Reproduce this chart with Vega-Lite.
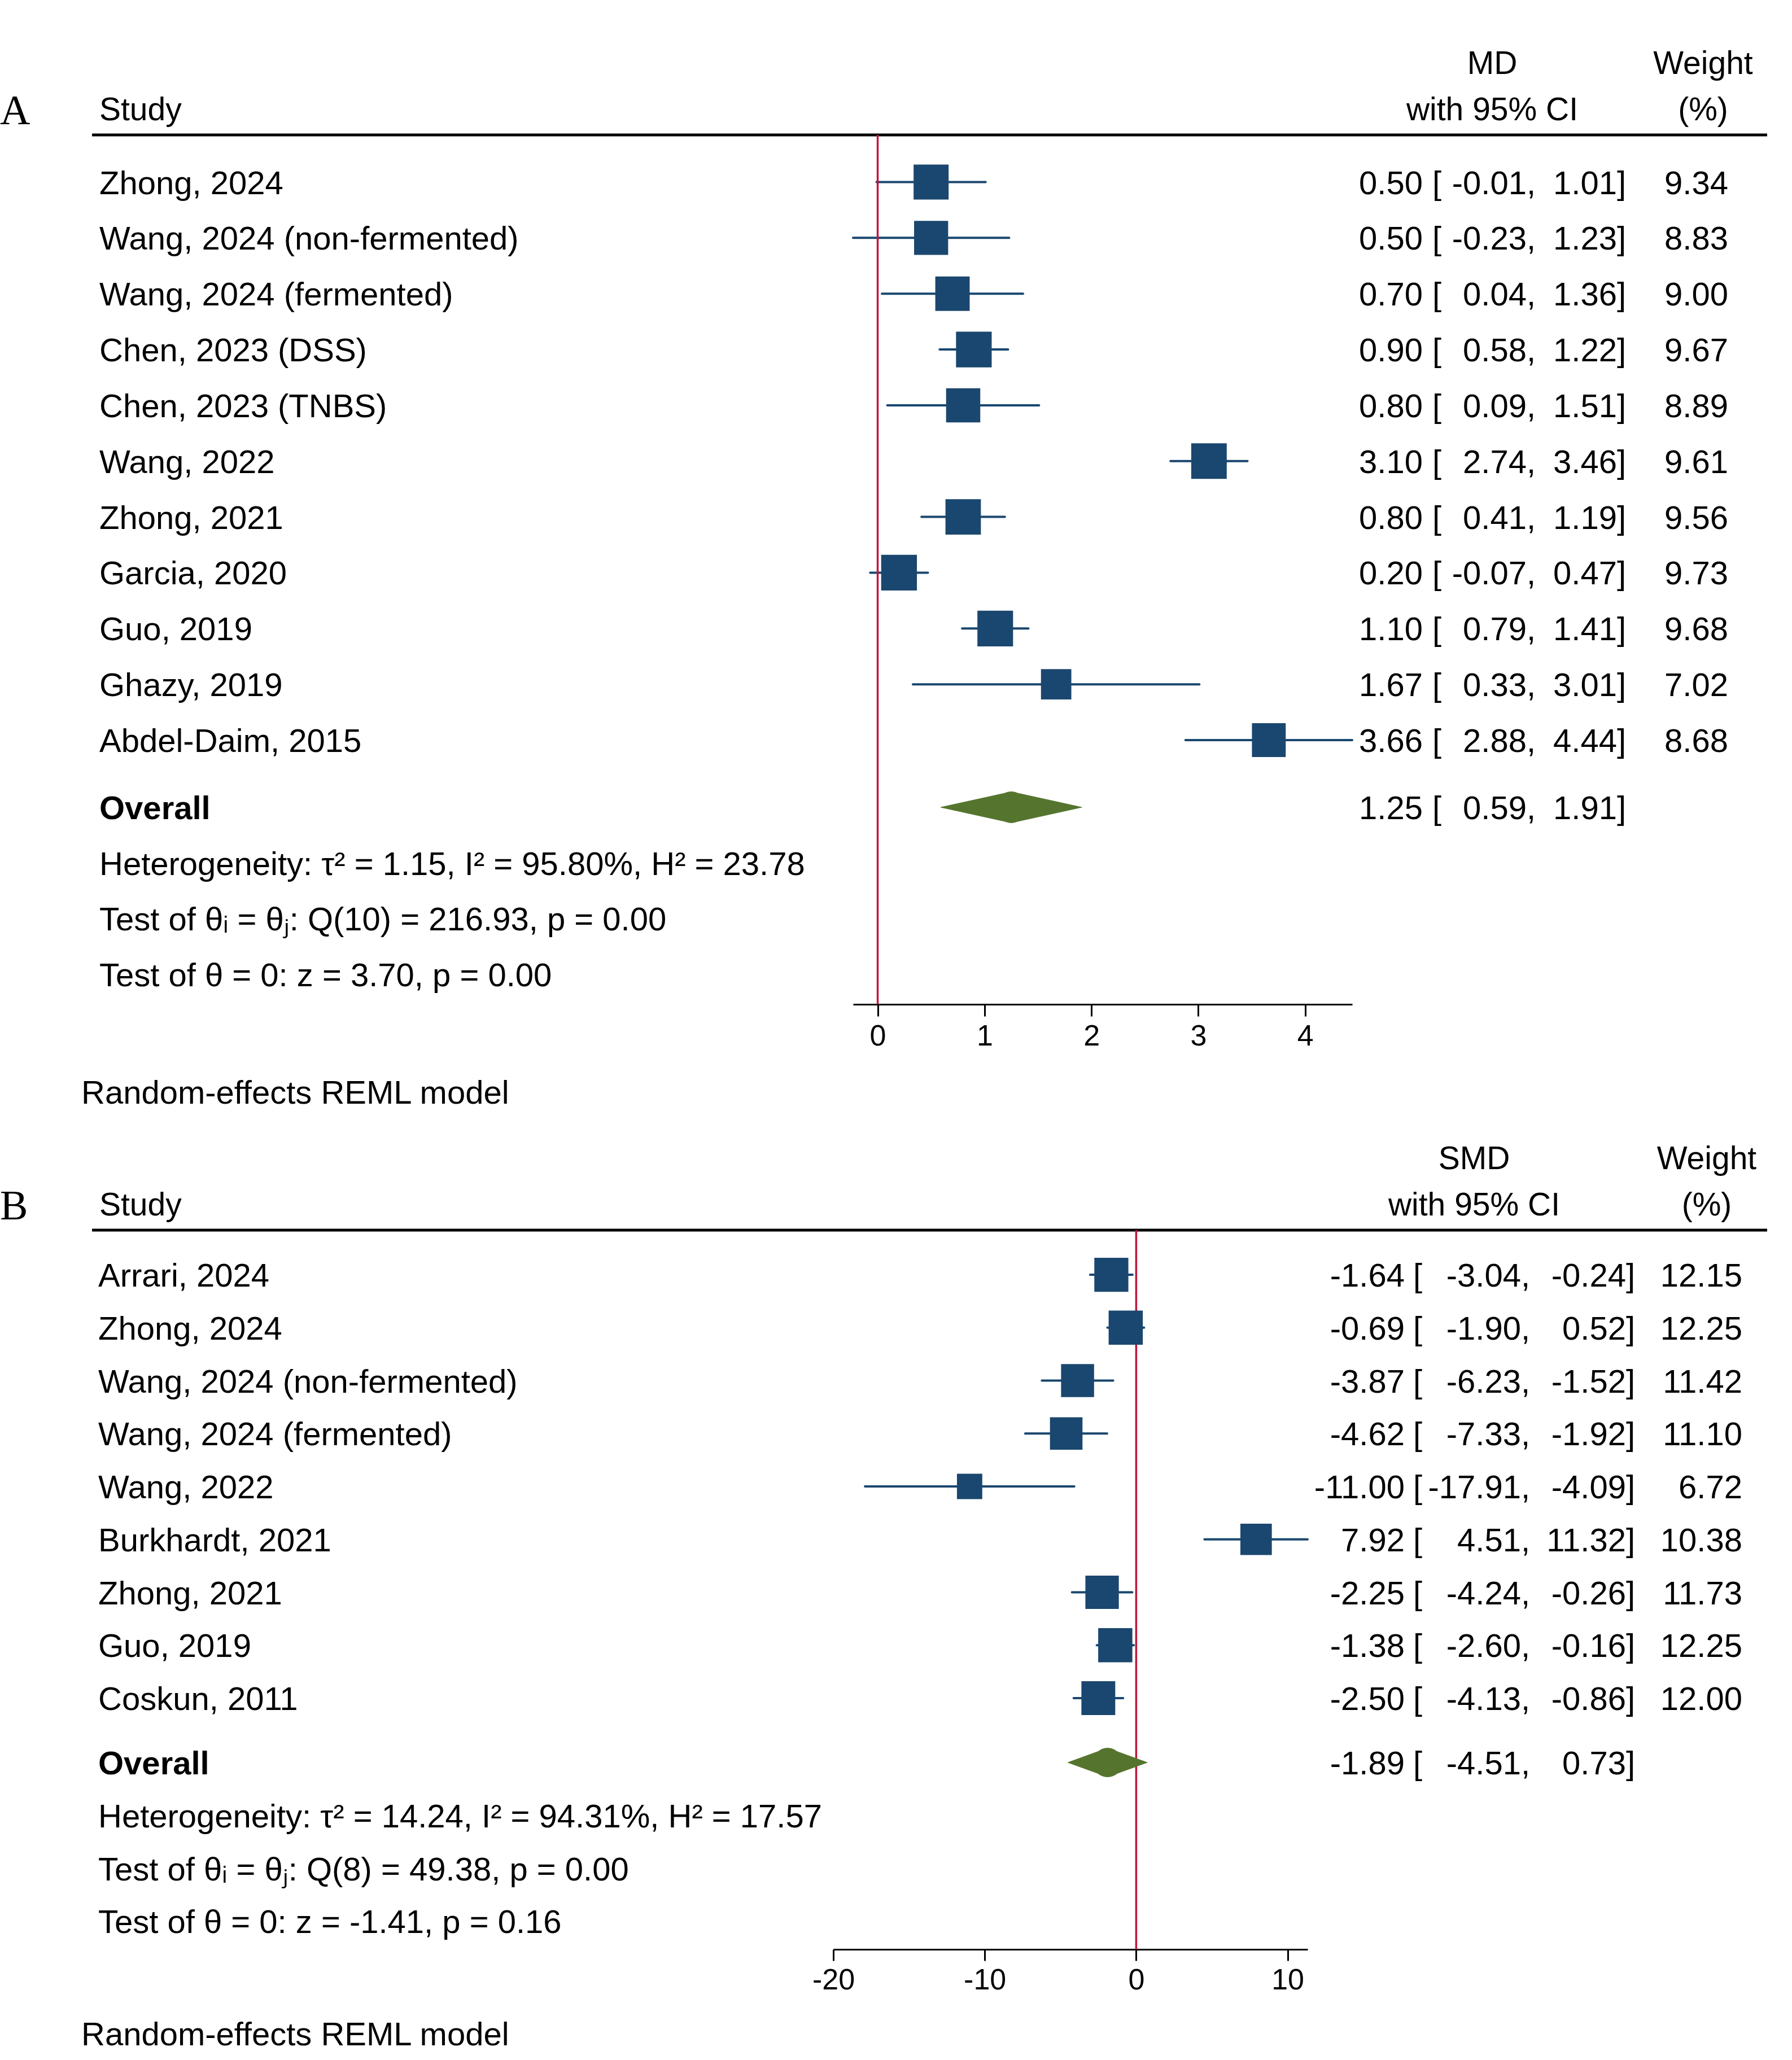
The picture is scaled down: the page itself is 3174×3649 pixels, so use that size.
{
  "$schema": "https://vega.github.io/schema/vega-lite/v6.json",
  "background": "white",
  "padding": {"left": 0, "top": 84, "right": 0, "bottom": 0},
  "config": {
    "view": {"stroke": null},
    "font": "Liberation Sans",
    "text": {"font": "Liberation Sans", "fontSize": 58, "color": "black"},
    "title": {"font": "Liberation Sans", "fontSize": 57, "fontWeight": "normal", "color": "black", "lineHeight": 82},
    "locale": {"number": {"decimal": ".", "thousands": ",", "grouping": [3], "currency": ["", ""], "minus": "-"}}
  },
  "datasets": {
    "forestA": [
      {"row": 1, "kind": "study", "label": "Zhong, 2024", "es": 0.50, "lo": -0.01, "hi": 1.01, "weight": 9.34},
      {"row": 2, "kind": "study", "label": "Wang, 2024 (non-fermented)", "es": 0.50, "lo": -0.23, "hi": 1.23, "weight": 8.83},
      {"row": 3, "kind": "study", "label": "Wang, 2024 (fermented)", "es": 0.70, "lo": 0.04, "hi": 1.36, "weight": 9.00},
      {"row": 4, "kind": "study", "label": "Chen, 2023 (DSS)", "es": 0.90, "lo": 0.58, "hi": 1.22, "weight": 9.67},
      {"row": 5, "kind": "study", "label": "Chen, 2023 (TNBS)", "es": 0.80, "lo": 0.09, "hi": 1.51, "weight": 8.89},
      {"row": 6, "kind": "study", "label": "Wang, 2022", "es": 3.10, "lo": 2.74, "hi": 3.46, "weight": 9.61},
      {"row": 7, "kind": "study", "label": "Zhong, 2021", "es": 0.80, "lo": 0.41, "hi": 1.19, "weight": 9.56},
      {"row": 8, "kind": "study", "label": "Garcia, 2020", "es": 0.20, "lo": -0.07, "hi": 0.47, "weight": 9.73},
      {"row": 9, "kind": "study", "label": "Guo, 2019", "es": 1.10, "lo": 0.79, "hi": 1.41, "weight": 9.68},
      {"row": 10, "kind": "study", "label": "Ghazy, 2019", "es": 1.67, "lo": 0.33, "hi": 3.01, "weight": 7.02},
      {"row": 11, "kind": "study", "label": "Abdel-Daim, 2015", "es": 3.66, "lo": 2.88, "hi": 4.44, "weight": 8.68},
      {"row": 12, "kind": "overall", "label": "Overall", "es": 1.25, "lo": 0.59, "hi": 1.91},
      {"row": 13, "kind": "stat", "label": "Heterogeneity: τ² = 1.15, I² = 95.80%, H² = 23.78"},
      {"row": 14, "kind": "stat", "label": "Test of θᵢ = θⱼ: Q(10) = 216.93, p = 0.00"},
      {"row": 15, "kind": "stat", "label": "Test of θ = 0: z = 3.70, p = 0.00"}
    ],
    "forestB": [
      {"row": 1, "kind": "study", "label": "Arrari, 2024", "es": -1.64, "lo": -3.04, "hi": -0.24, "weight": 12.15},
      {"row": 2, "kind": "study", "label": "Zhong, 2024", "es": -0.69, "lo": -1.90, "hi": 0.52, "weight": 12.25},
      {"row": 3, "kind": "study", "label": "Wang, 2024 (non-fermented)", "es": -3.87, "lo": -6.23, "hi": -1.52, "weight": 11.42},
      {"row": 4, "kind": "study", "label": "Wang, 2024 (fermented)", "es": -4.62, "lo": -7.33, "hi": -1.92, "weight": 11.10},
      {"row": 5, "kind": "study", "label": "Wang, 2022", "es": -11.00, "lo": -17.91, "hi": -4.09, "weight": 6.72},
      {"row": 6, "kind": "study", "label": "Burkhardt, 2021", "es": 7.92, "lo": 4.51, "hi": 11.32, "weight": 10.38},
      {"row": 7, "kind": "study", "label": "Zhong, 2021", "es": -2.25, "lo": -4.24, "hi": -0.26, "weight": 11.73},
      {"row": 8, "kind": "study", "label": "Guo, 2019", "es": -1.38, "lo": -2.60, "hi": -0.16, "weight": 12.25},
      {"row": 9, "kind": "study", "label": "Coskun, 2011", "es": -2.50, "lo": -4.13, "hi": -0.86, "weight": 12.00},
      {"row": 10, "kind": "overall", "label": "Overall", "es": -1.89, "lo": -4.51, "hi": 0.73},
      {"row": 11, "kind": "stat", "label": "Heterogeneity: τ² = 14.24, I² = 94.31%, H² = 17.57"},
      {"row": 12, "kind": "stat", "label": "Test of θᵢ = θⱼ: Q(8) = 49.38, p = 0.00"},
      {"row": 13, "kind": "stat", "label": "Test of θ = 0: z = -1.41, p = 0.16"}
    ]
  },
  "resolve": {"scale": {"x": "independent", "y": "independent", "size": "independent"}},
  "spacing": 57,
  "vconcat": [
    {
      "title": {"text": "Random-effects REML model", "orient": "bottom", "anchor": "start", "frame": "group", "dx": 144, "offset": 48, "fontSize": 58},
      "bounds": "flush",
      "spacing": 0,
      "resolve": {"scale": {"x": "independent", "y": "independent", "size": "independent"}},
      "hconcat": [
        {
          "width": 163, "height": 1540,
          "title": {"text": "A", "font": "Liberation Serif", "fontSize": 74, "anchor": "start", "frame": "group", "offset": 3},
          "data": {"values": []},
          "mark": "text"
        },
        {
          "width": 1348, "height": 1540,
          "title": {"text": "Study", "anchor": "start", "frame": "group", "dx": 13, "offset": 12},
          "data": {"name": "forestA"},
          "layer": [
            {"data": {"values": [{}]}, "mark": {"type": "rule", "color": "black", "strokeWidth": 5},
             "encoding": {"y": {"datum": 0.155, "type": "quantitative", "scale": {"domain": [0.155, 11, 12, 15.54], "range": [0, 1072, 1191, 1540], "nice": false, "zero": false}, "axis": null}}},
            {"transform": [{"filter": "datum.kind !== 'overall'"}],
             "mark": {"type": "text", "align": "left", "baseline": "alphabetic", "dx": 13, "dy": 21},
             "encoding": {
               "x": {"datum": 0, "type": "quantitative", "scale": {"domain": [0, 1], "nice": false, "zero": false}, "axis": null},
               "y": {"field": "row", "type": "quantitative"},
               "text": {"field": "label"}}},
            {"transform": [{"filter": "datum.kind === 'overall'"}],
             "mark": {"type": "text", "align": "left", "baseline": "alphabetic", "dx": 13, "dy": 21, "fontWeight": "bold"},
             "encoding": {
               "x": {"datum": 0, "type": "quantitative"},
               "y": {"field": "row", "type": "quantitative"},
               "text": {"field": "label"}}}
          ]
        },
        {
          "width": 884, "height": 1540,
          "data": {"name": "forestA"},
          "layer": [
            {"data": {"values": [{}]}, "mark": {"type": "rule", "color": "black", "strokeWidth": 5},
             "encoding": {"y": {"datum": 0.155, "type": "quantitative", "scale": {"domain": [0.155, 11, 12, 15.54], "range": [0, 1072, 1191, 1540], "nice": false, "zero": false}, "axis": null}}},
            {"transform": [{"filter": "datum.kind === 'study'"}],
             "mark": {"type": "rule", "color": "#1a476f", "strokeWidth": 4, "strokeCap": "round"},
             "encoding": {
               "x": {"field": "lo", "type": "quantitative", "scale": {"domain": [-0.23, 4.44], "nice": false, "zero": false},
                     "axis": {"values": [0, 1, 2, 3, 4], "format": "d", "title": null, "grid": false, "domainColor": "black", "domainWidth": 3, "tickColor": "black", "tickWidth": 3, "tickSize": 21, "labelFont": "Liberation Sans", "labelFontSize": 52, "labelColor": "black", "labelPadding": 10, "labelFlush": false, "labelOverlap": false}},
               "x2": {"field": "hi"},
               "y": {"field": "row", "type": "quantitative"}}},
            {"data": {"values": [{}]}, "mark": {"type": "rule", "color": "#c3143c", "strokeWidth": 3.5},
             "encoding": {"x": {"datum": 0, "type": "quantitative"}}},
            {"transform": [{"filter": "datum.kind === 'study'"}],
             "mark": {"type": "point", "shape": "square", "filled": true, "opacity": 1, "color": "#1a476f", "strokeWidth": 0},
             "encoding": {
               "x": {"field": "es", "type": "quantitative"},
               "y": {"field": "row", "type": "quantitative"},
               "size": {"field": "weight", "type": "quantitative", "scale": {"domain": [0, 10], "range": [0, 4120], "zero": true}, "legend": null}}},
            {"transform": [{"filter": "datum.kind === 'overall'"}, {"fold": ["lo", "es", "hi"], "as": ["part", "pos"]}],
             "mark": {"type": "trail", "color": "#55752f"},
             "encoding": {
               "x": {"field": "pos", "type": "quantitative"},
               "y": {"field": "row", "type": "quantitative"},
               "size": {"condition": {"test": "datum.part === 'es'", "value": 56}, "value": 0}}}
          ]
        },
        {
          "width": 125, "height": 1540,
          "data": {"name": "forestA"},
          "layer": [
            {"data": {"values": [{}]}, "mark": {"type": "rule", "color": "black", "strokeWidth": 5},
             "encoding": {"y": {"datum": 0.155, "type": "quantitative", "scale": {"domain": [0.155, 11, 12, 15.54], "range": [0, 1072, 1191, 1540], "nice": false, "zero": false}, "axis": null}}},
            {"transform": [{"filter": "datum.kind !== 'stat'"}],
             "mark": {"type": "text", "align": "right", "baseline": "alphabetic", "dy": 21},
             "encoding": {
               "x": {"datum": 1, "type": "quantitative", "scale": {"domain": [0, 1], "nice": false, "zero": false}, "axis": null},
               "y": {"field": "row", "type": "quantitative"},
               "text": {"field": "es", "type": "quantitative", "format": ".2f"}}}
          ]
        },
        {
          "width": 184, "height": 1540,
          "title": {"text": ["MD", "with 95% CI"], "anchor": "middle", "frame": "group", "dx": 31, "offset": 12},
          "data": {"name": "forestA"},
          "layer": [
            {"data": {"values": [{}]}, "mark": {"type": "rule", "color": "black", "strokeWidth": 5},
             "encoding": {"y": {"datum": 0.155, "type": "quantitative", "scale": {"domain": [0.155, 11, 12, 15.54], "range": [0, 1072, 1191, 1540], "nice": false, "zero": false}, "axis": null}}},
            {"transform": [{"filter": "datum.kind !== 'stat'"}],
             "mark": {"type": "text", "align": "left", "baseline": "alphabetic", "dx": 17, "dy": 21},
             "encoding": {
               "x": {"datum": 0, "type": "quantitative", "scale": {"domain": [0, 1], "nice": false, "zero": false}, "axis": null},
               "y": {"field": "row", "type": "quantitative"},
               "text": {"value": "["}}},
            {"transform": [{"filter": "datum.kind !== 'stat'"}],
             "mark": {"type": "text", "align": "right", "baseline": "alphabetic", "dy": 21},
             "encoding": {
               "x": {"datum": 1, "type": "quantitative"},
               "y": {"field": "row", "type": "quantitative"},
               "text": {"field": "lo", "type": "quantitative", "format": ".2f"}}}
          ]
        },
        {
          "width": 160, "height": 1540,
          "data": {"name": "forestA"},
          "layer": [
            {"data": {"values": [{}]}, "mark": {"type": "rule", "color": "black", "strokeWidth": 5},
             "encoding": {"y": {"datum": 0.155, "type": "quantitative", "scale": {"domain": [0.155, 11, 12, 15.54], "range": [0, 1072, 1191, 1540], "nice": false, "zero": false}, "axis": null}}},
            {"transform": [{"filter": "datum.kind !== 'stat'"}],
             "mark": {"type": "text", "align": "left", "baseline": "alphabetic", "dy": 21},
             "encoding": {
               "x": {"datum": 0, "type": "quantitative", "scale": {"domain": [0, 1], "nice": false, "zero": false}, "axis": null},
               "y": {"field": "row", "type": "quantitative"},
               "text": {"value": ","}}},
            {"transform": [{"filter": "datum.kind !== 'stat'"}],
             "mark": {"type": "text", "align": "right", "baseline": "alphabetic", "dy": 21},
             "encoding": {
               "x": {"datum": 1, "type": "quantitative"},
               "y": {"field": "row", "type": "quantitative"},
               "text": {"field": "hi", "type": "quantitative", "format": ".2f"}}}
          ]
        },
        {
          "width": 197, "height": 1540,
          "title": {"text": ["Weight", "(%)"], "anchor": "middle", "frame": "group", "dx": 54, "offset": 12},
          "data": {"name": "forestA"},
          "layer": [
            {"data": {"values": [{}]}, "mark": {"type": "rule", "color": "black", "strokeWidth": 5},
             "encoding": {"y": {"datum": 0.155, "type": "quantitative", "scale": {"domain": [0.155, 11, 12, 15.54], "range": [0, 1072, 1191, 1540], "nice": false, "zero": false}, "axis": null}}},
            {"transform": [{"filter": "datum.kind !== 'stat'"}],
             "mark": {"type": "text", "align": "left", "baseline": "alphabetic", "dy": 21},
             "encoding": {
               "x": {"datum": 0, "type": "quantitative", "scale": {"domain": [0, 1], "nice": false, "zero": false}, "axis": null},
               "y": {"field": "row", "type": "quantitative"},
               "text": {"value": "]"}}},
            {"transform": [{"filter": "datum.kind === 'study'"}],
             "mark": {"type": "text", "align": "right", "baseline": "alphabetic", "dy": 21},
             "encoding": {
               "x": {"datum": 1, "type": "quantitative"},
               "y": {"field": "row", "type": "quantitative"},
               "text": {"field": "weight", "type": "quantitative", "format": ".2f"}}}
          ]
        },
        {
          "width": 69, "height": 1540,
          "data": {"values": [{}]},
          "mark": {"type": "rule", "color": "black", "strokeWidth": 5},
          "encoding": {"y": {"datum": 0.155, "type": "quantitative", "scale": {"domain": [0.155, 11, 12, 15.54], "range": [0, 1072, 1191, 1540], "nice": false, "zero": false}, "axis": null}}
        }
      ]
    },
    {
      "title": {"text": "Random-effects REML model", "orient": "bottom", "anchor": "start", "frame": "group", "dx": 144, "offset": 44, "fontSize": 58},
      "bounds": "flush",
      "spacing": 0,
      "resolve": {"scale": {"x": "independent", "y": "independent", "size": "independent"}},
      "hconcat": [
        {
          "width": 163, "height": 1274,
          "title": {"text": "B", "font": "Liberation Serif", "fontSize": 74, "anchor": "start", "frame": "group", "offset": 3},
          "data": {"values": []},
          "mark": "text"
        },
        {
          "width": 1313, "height": 1274,
          "title": {"text": "Study", "anchor": "start", "frame": "group", "dx": 13, "offset": 12},
          "data": {"name": "forestB"},
          "layer": [
            {"data": {"values": [{}]}, "mark": {"type": "rule", "color": "black", "strokeWidth": 5},
             "encoding": {"y": {"datum": 0.157, "type": "quantitative", "scale": {"domain": [0.157, 9, 10, 13.53], "range": [0, 829, 943, 1274], "nice": false, "zero": false}, "axis": null}}},
            {"transform": [{"filter": "datum.kind !== 'overall'"}],
             "mark": {"type": "text", "align": "left", "baseline": "alphabetic", "dx": 11, "dy": 21},
             "encoding": {
               "x": {"datum": 0, "type": "quantitative", "scale": {"domain": [0, 1], "nice": false, "zero": false}, "axis": null},
               "y": {"field": "row", "type": "quantitative"},
               "text": {"field": "label"}}},
            {"transform": [{"filter": "datum.kind === 'overall'"}],
             "mark": {"type": "text", "align": "left", "baseline": "alphabetic", "dx": 11, "dy": 21, "fontWeight": "bold"},
             "encoding": {
               "x": {"datum": 0, "type": "quantitative"},
               "y": {"field": "row", "type": "quantitative"},
               "text": {"field": "label"}}}
          ]
        },
        {
          "width": 840, "height": 1274,
          "data": {"name": "forestB"},
          "layer": [
            {"data": {"values": [{}]}, "mark": {"type": "rule", "color": "black", "strokeWidth": 5},
             "encoding": {"y": {"datum": 0.157, "type": "quantitative", "scale": {"domain": [0.157, 9, 10, 13.53], "range": [0, 829, 943, 1274], "nice": false, "zero": false}, "axis": null}}},
            {"transform": [{"filter": "datum.kind === 'study'"}],
             "mark": {"type": "rule", "color": "#1a476f", "strokeWidth": 4, "strokeCap": "round"},
             "encoding": {
               "x": {"field": "lo", "type": "quantitative", "scale": {"domain": [-20, 11.32], "nice": false, "zero": false},
                     "axis": {"values": [-20, -10, 0, 10], "format": "d", "title": null, "grid": false, "domainColor": "black", "domainWidth": 3, "tickColor": "black", "tickWidth": 3, "tickSize": 20, "labelFont": "Liberation Sans", "labelFontSize": 52, "labelColor": "black", "labelPadding": 9, "labelFlush": false, "labelOverlap": false}},
               "x2": {"field": "hi"},
               "y": {"field": "row", "type": "quantitative"}}},
            {"data": {"values": [{}]}, "mark": {"type": "rule", "color": "#c3143c", "strokeWidth": 3.5},
             "encoding": {"x": {"datum": 0, "type": "quantitative"}}},
            {"transform": [{"filter": "datum.kind === 'study'"}],
             "mark": {"type": "point", "shape": "square", "filled": true, "opacity": 1, "color": "#1a476f", "strokeWidth": 0},
             "encoding": {
               "x": {"field": "es", "type": "quantitative"},
               "y": {"field": "row", "type": "quantitative"},
               "size": {"field": "weight", "type": "quantitative", "scale": {"domain": [0, 10], "range": [0, 2990], "zero": true}, "legend": null}}},
            {"transform": [{"filter": "datum.kind === 'overall'"}, {"fold": ["lo", "es", "hi"], "as": ["part", "pos"]}],
             "mark": {"type": "trail", "color": "#55752f"},
             "encoding": {
               "x": {"field": "pos", "type": "quantitative"},
               "y": {"field": "row", "type": "quantitative"},
               "size": {"condition": {"test": "datum.part === 'es'", "value": 52}, "value": 0}}}
          ]
        },
        {
          "width": 172, "height": 1274,
          "data": {"name": "forestB"},
          "layer": [
            {"data": {"values": [{}]}, "mark": {"type": "rule", "color": "black", "strokeWidth": 5},
             "encoding": {"y": {"datum": 0.157, "type": "quantitative", "scale": {"domain": [0.157, 9, 10, 13.53], "range": [0, 829, 943, 1274], "nice": false, "zero": false}, "axis": null}}},
            {"transform": [{"filter": "datum.kind !== 'stat'"}],
             "mark": {"type": "text", "align": "right", "baseline": "alphabetic", "dy": 21},
             "encoding": {
               "x": {"datum": 1, "type": "quantitative", "scale": {"domain": [0, 1], "nice": false, "zero": false}, "axis": null},
               "y": {"field": "row", "type": "quantitative"},
               "text": {"field": "es", "type": "quantitative", "format": ".2f"}}}
          ]
        },
        {
          "width": 206, "height": 1274,
          "title": {"text": ["SMD", "with 95% CI"], "anchor": "middle", "frame": "group", "dx": 20, "offset": 12},
          "data": {"name": "forestB"},
          "layer": [
            {"data": {"values": [{}]}, "mark": {"type": "rule", "color": "black", "strokeWidth": 5},
             "encoding": {"y": {"datum": 0.157, "type": "quantitative", "scale": {"domain": [0.157, 9, 10, 13.53], "range": [0, 829, 943, 1274], "nice": false, "zero": false}, "axis": null}}},
            {"transform": [{"filter": "datum.kind !== 'stat'"}],
             "mark": {"type": "text", "align": "left", "baseline": "alphabetic", "dx": 15, "dy": 21},
             "encoding": {
               "x": {"datum": 0, "type": "quantitative", "scale": {"domain": [0, 1], "nice": false, "zero": false}, "axis": null},
               "y": {"field": "row", "type": "quantitative"},
               "text": {"value": "["}}},
            {"transform": [{"filter": "datum.kind !== 'stat'"}],
             "mark": {"type": "text", "align": "right", "baseline": "alphabetic", "dy": 21},
             "encoding": {
               "x": {"datum": 1, "type": "quantitative"},
               "y": {"field": "row", "type": "quantitative"},
               "text": {"field": "lo", "type": "quantitative", "format": ".2f"}}}
          ]
        },
        {
          "width": 186, "height": 1274,
          "data": {"name": "forestB"},
          "layer": [
            {"data": {"values": [{}]}, "mark": {"type": "rule", "color": "black", "strokeWidth": 5},
             "encoding": {"y": {"datum": 0.157, "type": "quantitative", "scale": {"domain": [0.157, 9, 10, 13.53], "range": [0, 829, 943, 1274], "nice": false, "zero": false}, "axis": null}}},
            {"transform": [{"filter": "datum.kind !== 'stat'"}],
             "mark": {"type": "text", "align": "left", "baseline": "alphabetic", "dy": 21},
             "encoding": {
               "x": {"datum": 0, "type": "quantitative", "scale": {"domain": [0, 1], "nice": false, "zero": false}, "axis": null},
               "y": {"field": "row", "type": "quantitative"},
               "text": {"value": ","}}},
            {"transform": [{"filter": "datum.kind !== 'stat'"}],
             "mark": {"type": "text", "align": "right", "baseline": "alphabetic", "dy": 21},
             "encoding": {
               "x": {"datum": 1, "type": "quantitative"},
               "y": {"field": "row", "type": "quantitative"},
               "text": {"field": "hi", "type": "quantitative", "format": ".2f"}}}
          ]
        },
        {
          "width": 206, "height": 1274,
          "title": {"text": ["Weight", "(%)"], "anchor": "middle", "frame": "group", "dx": 40, "offset": 12},
          "data": {"name": "forestB"},
          "layer": [
            {"data": {"values": [{}]}, "mark": {"type": "rule", "color": "black", "strokeWidth": 5},
             "encoding": {"y": {"datum": 0.157, "type": "quantitative", "scale": {"domain": [0.157, 9, 10, 13.53], "range": [0, 829, 943, 1274], "nice": false, "zero": false}, "axis": null}}},
            {"transform": [{"filter": "datum.kind !== 'stat'"}],
             "mark": {"type": "text", "align": "left", "baseline": "alphabetic", "dy": 21},
             "encoding": {
               "x": {"datum": 0, "type": "quantitative", "scale": {"domain": [0, 1], "nice": false, "zero": false}, "axis": null},
               "y": {"field": "row", "type": "quantitative"},
               "text": {"value": "]"}}},
            {"transform": [{"filter": "datum.kind === 'study'"}],
             "mark": {"type": "text", "align": "right", "baseline": "alphabetic", "dy": 21},
             "encoding": {
               "x": {"datum": 1, "type": "quantitative"},
               "y": {"field": "row", "type": "quantitative"},
               "text": {"field": "weight", "type": "quantitative", "format": ".2f"}}}
          ]
        },
        {
          "width": 44, "height": 1274,
          "data": {"values": [{}]},
          "mark": {"type": "rule", "color": "black", "strokeWidth": 5},
          "encoding": {"y": {"datum": 0.157, "type": "quantitative", "scale": {"domain": [0.157, 9, 10, 13.53], "range": [0, 829, 943, 1274], "nice": false, "zero": false}, "axis": null}}
        }
      ]
    }
  ]
}
